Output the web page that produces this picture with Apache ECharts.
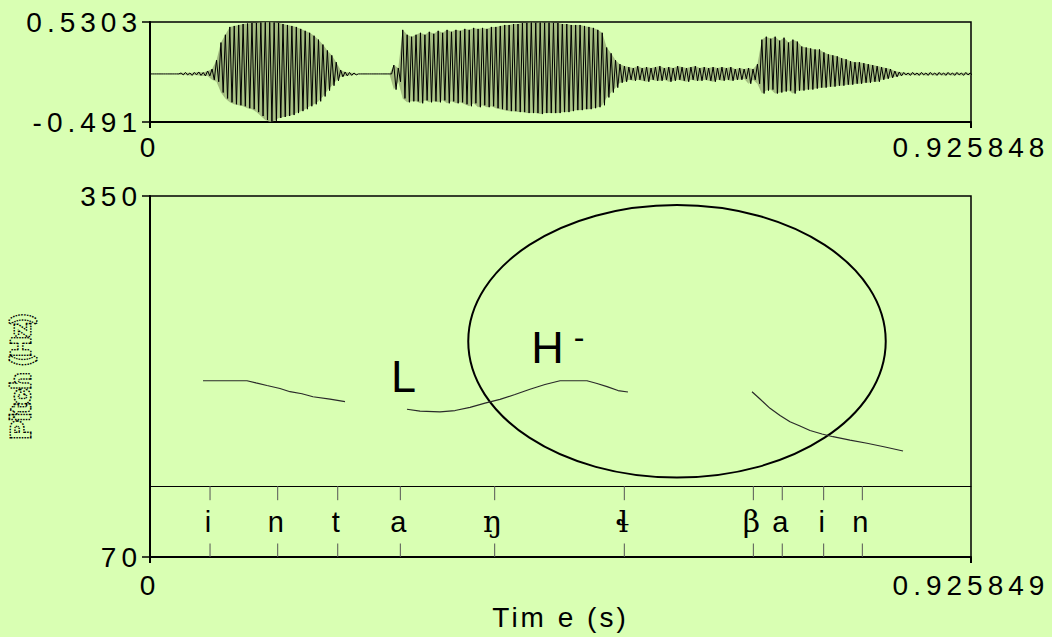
<!DOCTYPE html>
<html>
<head>
<meta charset="utf-8">
<script src="https://cdn.jsdelivr.net/npm/echarts@6/dist/echarts.min.js"></script>
<style>
html,body{margin:0;padding:0;background:#D9FFB3;}
#chart{width:1052px;height:637px;}
</style>
</head>
<body>
<div id="chart"></div>
<script>
// ---------- data ----------
const waveEnd = 0.925848;
const pitchEnd = 0.925849;
const waveTickValues = [-0.491, 0.5303];
const waveTimeTicks = [0, 0.925848];
const pitchTickValues = [70, 350];
const pitchTimeTicks = [0, 0.925849];

// waveform peak envelope, one bin every 5 ms (max / min of the signal in each bin)
const waveStep = 0.005;
const waveHigh = [
  0,0,0,0,0,0,0,
  0.01,0.015,0.01,0.015,0.02,0.015,0.03,
  0.05,0.14,0.32,0.40,0.48,0.49,
  0.50,0.51,0.515,0.52,0.52,0.525,0.527,0.527,0.525,0.52,
  0.51,0.50,0.49,0.48,0.46,0.44,0.42,0.39,0.35,0.30,
  0.24,0.19,0.12,0.04,0.02,0.015,0.01,
  0,0,0,0,0,0,0,0,
  0.09,0.06,0.45,0.40,0.38,
  0.40,0.42,0.40,0.43,0.41,0.44,0.42,0.45,0.43,0.45,
  0.44,0.46,0.45,0.47,0.46,0.47,0.46,0.48,0.48,0.49,
  0.50,0.50,0.51,0.51,0.52,0.52,0.525,0.52,0.525,0.52,
  0.525,0.52,0.52,0.51,0.51,0.50,0.50,0.50,0.49,0.48,
  0.47,0.45,0.42,0.27,0.21,0.14,0.10,0.08,
  0.07,0.06,0.08,0.06,0.07,0.06,0.07,0.08,0.06,0.07,
  0.06,0.08,0.07,0.06,0.07,0.08,0.06,0.07,0.06,0.07,
  0.06,0.07,0.06,0.07,0.05,0.06,0.05,0.06,0.05,
  0.10,0.35,0.38,0.36,0.38,0.34,0.37,0.32,0.35,0.33,
  0.28,0.27,0.26,0.25,0.25,0.22,0.20,0.19,0.18,0.16,
  0.15,0.13,0.12,0.12,0.11,0.10,0.09,0.08,0.07,0.06,
  0.05,0.03,0.02,
  0.015,0.01,0.015,0.01,0.015,0.01,0.015,0.01,0.015,0.01,0.015,0.01,0.015,0.01,0.015,0.01
];
const waveLow = [
  0,0,0,0,0,0,0,
  -0.01,-0.01,-0.015,-0.01,-0.015,-0.02,-0.02,
  -0.06,-0.08,-0.19,-0.25,-0.29,-0.31,
  -0.32,-0.33,-0.35,-0.36,-0.39,-0.43,-0.47,-0.488,-0.48,-0.45,
  -0.44,-0.43,-0.42,-0.40,-0.38,-0.36,-0.33,-0.31,-0.28,-0.23,
  -0.17,-0.12,-0.07,-0.03,-0.02,-0.015,-0.01,
  0,0,0,0,0,0,0,0,
  -0.16,-0.08,-0.25,-0.29,-0.28,
  -0.28,-0.30,-0.27,-0.29,-0.28,-0.29,-0.27,-0.30,-0.28,-0.30,
  -0.29,-0.31,-0.33,-0.30,-0.34,-0.32,-0.34,-0.33,-0.35,-0.36,
  -0.37,-0.38,-0.38,-0.39,-0.39,-0.40,-0.40,-0.40,-0.41,-0.40,
  -0.40,-0.40,-0.40,-0.39,-0.39,-0.38,-0.37,-0.37,-0.36,-0.36,
  -0.35,-0.34,-0.32,-0.24,-0.19,-0.14,-0.09,-0.08,
  -0.06,-0.07,-0.06,-0.07,-0.08,-0.06,-0.07,-0.07,-0.06,-0.08,
  -0.07,-0.06,-0.07,-0.08,-0.06,-0.07,-0.07,-0.06,-0.07,-0.08,
  -0.06,-0.07,-0.06,-0.07,-0.06,-0.06,-0.05,-0.10,-0.06,
  -0.10,-0.20,-0.17,-0.16,-0.20,-0.19,-0.18,-0.17,-0.20,-0.17,
  -0.17,-0.16,-0.16,-0.15,-0.14,-0.14,-0.13,-0.13,-0.12,-0.12,
  -0.11,-0.11,-0.10,-0.10,-0.09,-0.09,-0.08,-0.08,-0.06,-0.05,
  -0.04,-0.03,-0.02,
  -0.01,-0.015,-0.01,-0.015,-0.01,-0.015,-0.01,-0.015,-0.01,-0.015,-0.01,-0.015,-0.01,-0.015,-0.01,-0.015
];

// pitch track (null separates voiced stretches)
const pitchTime = [
  0.0598,0.0846,0.1094,0.1195,0.1319,0.1466,0.1579,0.1714,0.1838,0.2030,0.2199,
  null,
  0.2898,0.3045,0.3270,0.3440,0.3609,0.3778,0.3947,0.4116,0.4285,0.4454,0.4624,0.4928,0.5041,0.5154,0.5278,0.5390,
  null,
  0.6789,0.6879,0.6992,0.7105,0.7217,0.7330,0.7443,0.7578,0.7702,0.7894,0.8086,0.8289,0.8492
];
const pitchHz = [
  206.7,206.7,206.7,205.0,203.0,200.7,198.2,196.6,194.3,192.5,190.5,
  null,
  184.6,183.2,182.5,183.6,186.1,189.4,192.3,196.0,200.1,203.8,206.7,206.7,204.6,202.1,199.1,198.0,
  null,
  198.2,192.5,185.3,179.8,174.9,171.6,168.1,165.4,163.3,160.7,158.2,155.3,152.2
];

// segment tier: boundary times and their labels
const segmentTime = [0.0677,0.1440,0.2117,0.2823,0.3887,0.5349,0.6804,0.7130,0.7597,0.8033];
const segmentLabel = ['i','n','t','a','ŋ','ɬ','β','a','i','n'];

// tone annotations
const toneLabel = ['L','H','-'];
const toneTime = [0.2859,0.4483,0.4838];
const toneHz = [210.2,232.5,240.5];

// highlighted region (ellipse): centre and half-axes in data units
const ellipseCentre = [0.5943, 237.3];
const ellipseHalfAxes = [0.2354, 105.7];

// ---------- chart ----------
const SANS = '"Liberation Sans", Arial, Helvetica, sans-serif';
const IPA = '"DejaVu Serif", "Liberation Serif", serif';
const wavePoints = [];
for (let i = 0; i < waveHigh.length; i++) {
  const t = i * waveStep;
  wavePoints.push([t, waveHigh[i]]);
  wavePoints.push([t + waveStep / 2, waveLow[i]]);
}
const envelopeBins = waveHigh.map((v, i) => [i * waveStep, v, waveLow[i]]);
const pitchPoints = pitchTime.map((t, i) => (t === null ? ['-', '-'] : [t, pitchHz[i]]));

const tickLabel = { fontSize: 28, color: '#000', fontFamily: SANS };

const chart = echarts.init(document.getElementById('chart'), null, { renderer: 'svg', width: 1052, height: 637 });
chart.setOption({
  animation: false,
  backgroundColor: '#D9FFB3',
  grid: [
    { left: 150, top: 22, width: 821, height: 100, show: true, borderColor: '#000', borderWidth: 1.5, backgroundColor: 'transparent', outerBoundsMode: 'none' },
    { left: 150, top: 196, width: 821, height: 361, show: true, borderColor: '#000', borderWidth: 1.5, backgroundColor: 'transparent', outerBoundsMode: 'none' },
    { left: 150, top: 486, width: 821, height: 71, show: false, outerBoundsMode: 'none' }
  ],
  xAxis: [
    {
      gridIndex: 0, type: 'value', min: 0, max: waveEnd,
      axisLine: { show: true, onZero: false, lineStyle: { color: '#000', width: 2 } },
      axisTick: { show: true, customValues: waveTimeTicks, length: 6, lineStyle: { color: '#000', width: 2 } },
      axisLabel: Object.assign({ customValues: waveTimeTicks, margin: 11, formatter: v => String(v) }, tickLabel),
      splitLine: { show: false }
    },
    {
      gridIndex: 1, type: 'value', min: 0, max: pitchEnd,
      name: 'Tim e (s)', nameLocation: 'middle', nameGap: 46,
      nameTextStyle: { fontSize: 28, color: '#000', fontFamily: SANS },
      axisLine: { show: true, onZero: false, lineStyle: { color: '#000', width: 2 } },
      axisTick: { show: true, customValues: pitchTimeTicks, length: 6, lineStyle: { color: '#000', width: 2 } },
      axisLabel: Object.assign({ customValues: pitchTimeTicks, margin: 14, formatter: v => String(v) }, tickLabel),
      splitLine: { show: false }
    },
    {
      gridIndex: 2, type: 'value', min: 0, max: pitchEnd, position: 'top',
      axisLine: { show: true, onZero: false, lineStyle: { color: '#000', width: 1 } },
      axisTick: { show: false }, axisLabel: { show: false }, splitLine: { show: false }
    }
  ],
  yAxis: [
    {
      gridIndex: 0, type: 'value', min: -0.491, max: 0.5303,
      axisLine: { show: true, onZero: false, lineStyle: { color: '#000', width: 2 } },
      axisTick: { show: true, customValues: waveTickValues, length: 8, lineStyle: { color: '#000', width: 1.5 } },
      axisLabel: Object.assign({ customValues: waveTickValues, margin: 8, formatter: v => String(v) }, tickLabel),
      splitLine: { show: false }
    },
    {
      gridIndex: 1, type: 'value', min: 70, max: 350,
      name: 'Pitch (Hz)', nameLocation: 'middle', nameRotate: 90, nameGap: 116,
      nameTextStyle: {
        fontSize: 27, fontWeight: 'bold', fontFamily: SANS,
        color: '#D9FFB3', textBorderColor: '#000', textBorderWidth: 3, textBorderType: [1.5, 1.2]
      },
      axisLine: { show: true, onZero: false, lineStyle: { color: '#000', width: 2 } },
      axisTick: { show: true, customValues: pitchTickValues, length: 8, lineStyle: { color: '#000', width: 1.5 } },
      axisLabel: Object.assign({ customValues: pitchTickValues, margin: 8, formatter: v => String(v) }, tickLabel),
      splitLine: { show: false }
    },
    { gridIndex: 2, type: 'value', min: 0, max: 1, show: false }
  ],
  series: [
    {
      name: 'envelope', type: 'custom', xAxisIndex: 0, yAxisIndex: 0, silent: true,
      data: envelopeBins, encode: { x: 0, y: [1, 2] },
      renderItem: (params, api) => {
        const i = params.dataIndex;
        if (i >= envelopeBins.length - 1) return null;
        const n = envelopeBins[i + 1];
        const a = api.coord([api.value(0), api.value(1)]);
        const b = api.coord([n[0], n[1]]);
        const c = api.coord([n[0], n[2]]);
        const d = api.coord([api.value(0), api.value(2)]);
        return { type: 'polygon', shape: { points: [a, b, c, d] }, style: { fill: '#A3BC80', stroke: 'none' } };
      }
    },
    {
      name: 'waveform', type: 'line', xAxisIndex: 0, yAxisIndex: 0,
      data: wavePoints, symbol: 'none', showSymbol: false, silent: true,
      lineStyle: { color: '#000', width: 1 }
    },
    {
      name: 'pitch', type: 'line', xAxisIndex: 1, yAxisIndex: 1,
      data: pitchPoints, symbol: 'none', showSymbol: false, connectNulls: false, silent: true,
      lineStyle: { color: '#2a2a2a', width: 1.2 }
    },
    {
      name: 'ellipse', type: 'custom', xAxisIndex: 1, yAxisIndex: 1, silent: true,
      data: [[ellipseCentre[0], ellipseCentre[1], ellipseHalfAxes[0], ellipseHalfAxes[1]]],
      encode: { x: 0, y: 1 },
      renderItem: (params, api) => {
        const c = api.coord([api.value(0), api.value(1)]);
        const e = api.coord([api.value(0) + api.value(2), api.value(1) + api.value(3)]);
        return {
          type: 'ellipse',
          shape: { cx: c[0], cy: c[1], rx: e[0] - c[0], ry: c[1] - e[1] },
          style: { fill: 'none', stroke: '#000', lineWidth: 2 }
        };
      }
    },
    {
      name: 'tones', type: 'custom', xAxisIndex: 1, yAxisIndex: 1, silent: true,
      data: toneTime.map((t, i) => [t, toneHz[i]]),
      encode: { x: 0, y: 1 },
      renderItem: (params, api) => {
        const p = api.coord([api.value(0), api.value(1)]);
        const txt = toneLabel[params.dataIndex];
        return {
          type: 'text', x: p[0], y: p[1],
          style: { text: txt, fontSize: txt === '-' ? 32 : 45, fontFamily: SANS, fill: '#000', align: 'center', verticalAlign: 'middle' }
        };
      }
    },
    {
      name: 'segments', type: 'custom', xAxisIndex: 2, yAxisIndex: 2, silent: true,
      data: segmentTime.map(t => [t, 0.5]),
      encode: { x: 0, y: 1 },
      renderItem: (params, api) => {
        const t = api.value(0);
        const lab = segmentLabel[params.dataIndex];
        const top = api.coord([t, 1]);
        const bot = api.coord([t, 0]);
        const h = bot[1] - top[1];
        const ascii = /^[a-z]$/.test(lab);
        return {
          type: 'group',
          children: [
            { type: 'line', shape: { x1: top[0], y1: top[1], x2: top[0], y2: top[1] + h * 0.2 }, style: { stroke: '#555', lineWidth: 1 } },
            { type: 'line', shape: { x1: bot[0], y1: bot[1] - h * 0.19, x2: bot[0], y2: bot[1] }, style: { stroke: '#555', lineWidth: 1 } },
            { type: 'text', x: top[0] - 2, y: top[1] + h * 0.5, style: { text: lab, fontSize: ascii ? 29 : 30, fontFamily: ascii ? SANS : IPA, fill: '#000', align: 'center', verticalAlign: 'middle' } }
          ]
        };
      }
    }
  ]
});

function spaceText() {
  document.querySelectorAll('#chart svg text').forEach(el => {
    const s = el.textContent;
    if (/^-?[0-9.]+$/.test(s)) el.style.letterSpacing = '5px';
    else if (s === 'Tim e (s)') el.style.letterSpacing = '3px';
  });
}
chart.on('finished', spaceText);
setTimeout(spaceText, 50);
</script>
</body>
</html>
